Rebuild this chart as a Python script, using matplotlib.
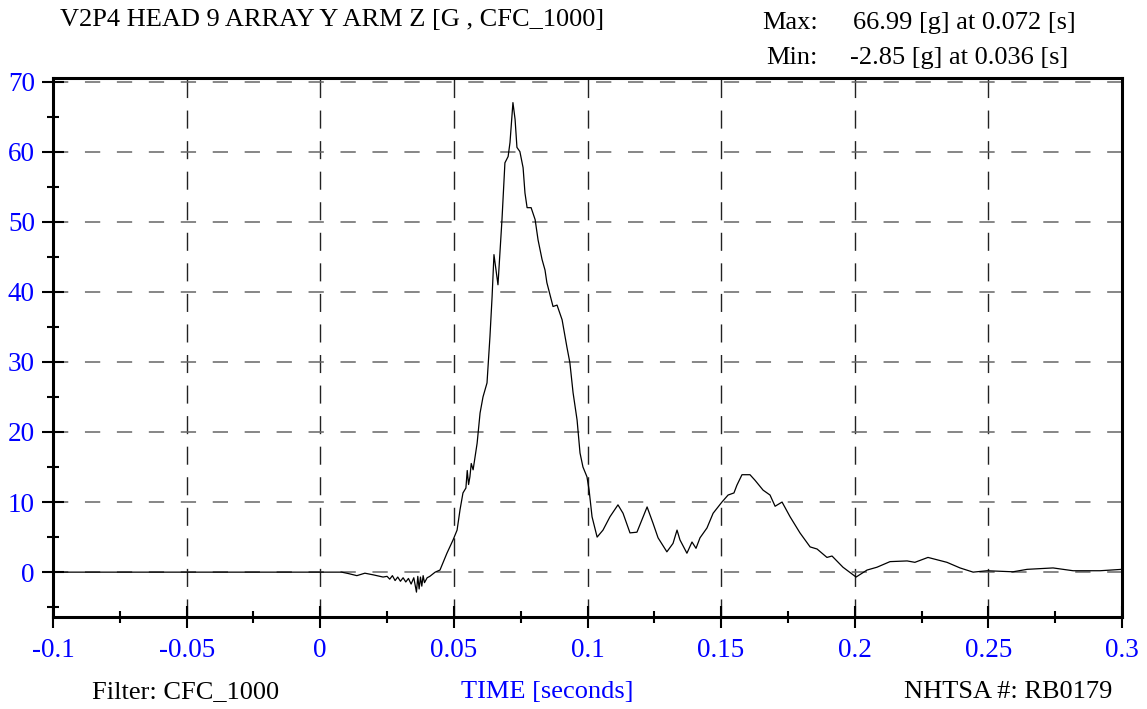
import matplotlib
matplotlib.use("Agg")
import matplotlib.pyplot as plt
import numpy as np

# time [s] and acceleration [g]
time_s = [-0.1, 0.0, 0.008, 0.0105, 0.0137, 0.0167, 0.020, 0.0235, 0.025, 0.026,
          0.027, 0.028, 0.029, 0.030, 0.031, 0.032, 0.033, 0.034, 0.035, 0.036,
          0.0365, 0.037, 0.0375, 0.038, 0.0385, 0.039, 0.040, 0.041, 0.043,
          0.0448, 0.0474, 0.0497, 0.0512, 0.0523, 0.0534, 0.0545, 0.055, 0.0555,
          0.056, 0.0565, 0.0572, 0.0587, 0.0598, 0.0609, 0.0624, 0.0635, 0.0643,
          0.065, 0.0665, 0.068, 0.0691, 0.0703, 0.071, 0.0721, 0.0729, 0.0736,
          0.0747, 0.0759, 0.0766, 0.0774, 0.0789, 0.0804, 0.0815, 0.083, 0.0841,
          0.0848, 0.0871, 0.0886, 0.0905, 0.0923, 0.0934, 0.0946, 0.0961, 0.0972,
          0.0983, 0.0998, 0.1006, 0.1017, 0.1036, 0.1058, 0.1084, 0.1114, 0.1133,
          0.1159, 0.1185, 0.1223, 0.1245, 0.1264, 0.1297, 0.132, 0.1335, 0.1346,
          0.1372, 0.1391, 0.1406, 0.1421, 0.1447, 0.147, 0.1503, 0.1526, 0.1548,
          0.1559, 0.1578, 0.1608, 0.1627, 0.1657, 0.1683, 0.1702, 0.1728, 0.1758,
          0.1795, 0.1833, 0.1859, 0.1896, 0.1915, 0.1956, 0.2005, 0.2046, 0.2083,
          0.2132, 0.2196, 0.2225, 0.2274, 0.2345, 0.2394, 0.2443, 0.2495, 0.2592,
          0.2645, 0.2742, 0.2817, 0.2918, 0.3]
accel_g = [0.0, 0.0, 0.0, -0.2, -0.5, -0.15, -0.4, -0.7, -0.6, -1.0,
           -0.5, -1.2, -0.7, -1.3, -0.8, -1.4, -0.9, -1.7, -0.8, -2.85,
           -0.6, -2.4, -0.7, -2.0, -0.5, -1.5, -0.8, -0.6, 0.0,
           0.3, 2.7, 4.6, 6.0, 8.9, 11.3, 12.0, 14.5, 12.5,
           13.6, 15.5, 14.6, 18.4, 22.7, 25.0, 27.0, 33.6, 39.3,
           45.3, 41.0, 50.3, 58.4, 59.3, 61.3, 66.99, 64.6, 60.6,
           60.0, 57.7, 54.1, 52.0, 52.0, 50.3, 47.4, 44.6, 43.1,
           41.3, 37.9, 38.1, 36.0, 32.1, 29.9, 25.6, 21.7, 17.0,
           15.0, 13.6, 11.7, 7.9, 5.0, 6.0, 7.9, 9.6, 8.4,
           5.6, 5.7, 9.3, 7.0, 4.9, 2.9, 4.1, 6.0, 4.6,
           2.7, 4.3, 3.4, 4.9, 6.3, 8.4, 10.0, 11.0, 11.3,
           12.4, 13.9, 13.9, 13.1, 11.7, 11.0, 9.4, 10.0, 7.9,
           5.6, 3.6, 3.3, 2.1, 2.3, 0.7, -0.7, 0.3, 0.7,
           1.5, 1.6, 1.4, 2.1, 1.4, 0.6, 0.0, 0.2, 0.05,
           0.4, 0.6, 0.2, 0.2, 0.4]

x_ticks = [-0.1, -0.05, 0, 0.05, 0.1, 0.15, 0.2, 0.25, 0.3]
x_labels = ["-0.1", "-0.05", "0", "0.05", "0.1", "0.15", "0.2", "0.25", "0.3"]
y_ticks = [0, 10, 20, 30, 40, 50, 60, 70]

title = "V2P4 HEAD 9 ARRAY Y ARM Z [G , CFC_1000]"
max_text = "66.99 [g] at 0.072 [s]"
min_text = "-2.85 [g] at 0.036 [s]"

plt.rcParams["font.family"] = ["Liberation Serif", "DejaVu Serif"]
plt.rcParams["lines.scale_dashes"] = False

fig = plt.figure(figsize=(11.47, 7.09), dpi=100)
ax = fig.add_axes([53 / 1147, 1 - 617 / 709, (1122 - 53) / 1147, (617 - 78) / 709])

# grid
for xv in x_ticks[1:-1]:
    ax.axvline(xv, color="#222222", lw=1.0, dashes=(13, 9), zorder=1)
for yv in y_ticks:
    ax.axhline(yv, color="#666666", lw=1.1, dashes=(11, 12), zorder=1)

ax.plot(time_s, accel_g, color="black", lw=0.9, zorder=3)

ax.set_xlim(-0.1, 0.3)
ax.set_ylim(-6.4, 70.5)
ax.set_xticks(x_ticks)
ax.set_xticklabels(x_labels)
ax.set_xticks(np.arange(-0.075, 0.3, 0.05), minor=True)
ax.set_yticks(y_ticks)
ax.set_yticks(np.arange(-5, 70, 10), minor=True)

for s in ax.spines.values():
    s.set_linewidth(2.2)
ax.tick_params(which="major", direction="inout", length=16, width=1.5,
               labelsize=19.5, labelcolor="blue")
ax.tick_params(axis="x", which="major", pad=7)
ax.tick_params(axis="y", which="major", pad=5)
ax.tick_params(which="minor", direction="inout", length=8.5, width=1.5)

fs = 19
fig.text(60 / 1147, 1 - 20 / 709, title, fontsize=fs, va="center", ha="left")
fig.text(818 / 1147, 1 - 23 / 709, "Max:", fontsize=fs, va="center", ha="right")
fig.text(853 / 1147, 1 - 23 / 709, max_text, fontsize=fs, va="center", ha="left")
fig.text(818 / 1147, 1 - 58 / 709, "Min:", fontsize=fs, va="center", ha="right")
fig.text(850 / 1147, 1 - 58 / 709, min_text, fontsize=fs, va="center", ha="left")

fig.text(92 / 1147, 1 - 692 / 709, "Filter: CFC_1000", fontsize=fs, va="center", ha="left")
fig.text(547 / 1147, 1 - 692 / 709, "TIME [seconds]", fontsize=fs, va="center",
         ha="center", color="blue")
fig.text(1112 / 1147, 1 - 692 / 709, "NHTSA #: RB0179", fontsize=fs, va="center", ha="right")

fig.savefig("out.png", dpi=100)
